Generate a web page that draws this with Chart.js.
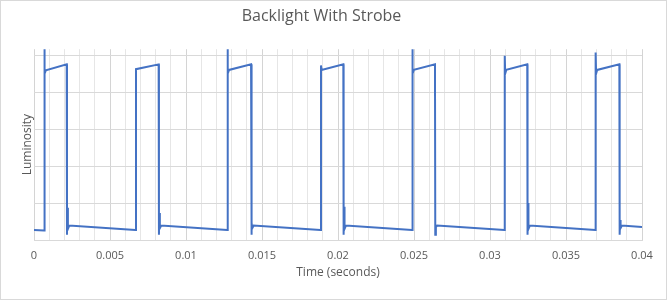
<!DOCTYPE html>
<html>
<head>
    <title>Backlight With Strobe</title>
    <script src="https://cdn.jsdelivr.net/npm/chart.js@4.4.0/dist/chart.umd.min.js"></script>
    <style>
        body { margin: 0; background: #fff; }
        .box { width: 667px; height: 300px; border: 1px solid #d9d9d9; box-sizing: border-box; }
    </style>
</head>
<body>
<div class="box">
    <canvas id="myChart" width="665" height="298"></canvas>
</div>

<script>
    // waveform (seconds, luminosity in grid units)
    var timeSec = [
        0, 0.00066, 0.00068, 0.00071, 0.00078, 0.00215, 0.00217, 0.00220, 0.00223, 0.00232,
        0.00667, 0.00671, 0.00820, 0.00822, 0.00825, 0.00828, 0.00837,
        0.01271, 0.01273, 0.01276, 0.01283, 0.01428, 0.01430, 0.01433, 0.01436, 0.01445,
        0.01884, 0.01888, 0.01892, 0.02035, 0.02037, 0.02040, 0.02043, 0.02052,
        0.02487, 0.02489, 0.02492, 0.02499, 0.02638, 0.02640, 0.02644, 0.02652,
        0.03095, 0.03097, 0.03100, 0.03107, 0.03245, 0.03247, 0.03250, 0.03253, 0.03262,
        0.03693, 0.03695, 0.03698, 0.03705, 0.03851, 0.03853, 0.03856, 0.03859, 0.03868,
        0.04
    ];
    var luminosity = [
        0.27, 0.26, 5.6, 4.50, 4.59, 4.75, 0.14, 0.87, 0.30, 0.39,
        0.27, 4.62, 4.75, 0.14, 0.73, 0.32, 0.39,
        0.27, 5.6, 4.50, 4.60, 4.75, 0.14, 0.46, 0.32, 0.39,
        0.27, 4.72, 4.60, 4.75, 0.14, 0.90, 0.30, 0.39,
        0.27, 5.6, 4.50, 4.60, 4.75, 0.14, 0.35, 0.39,
        0.27, 4.98, 4.50, 4.60, 4.75, 0.14, 1.00, 0.30, 0.39,
        0.27, 5.07, 4.50, 4.60, 4.75, 0.14, 0.54, 0.32, 0.39,
        0.35
    ];
    var yGridValues = [0, 1, 2, 3, 4, 5];

    var points = timeSec.map(function (t, i) {
        return { x: t, y: luminosity[i] };
    });

    var textColor = "#595959";
    var fontName = "'Open Sans', sans-serif";

    function isMajor(v) {
        return Math.round(v * 1000) % 5 === 0;
    }

    var ctx = document.getElementById("myChart").getContext("2d");
    new Chart(ctx, {
        type: "scatter",
        data: {
            datasets: [{
                data: points,
                showLine: true,
                borderColor: "#4472C4",
                borderWidth: 2,
                pointRadius: 0,
                tension: 0,
                clip: 0
            }]
        },
        options: {
            responsive: false,
            animation: false,
            layout: { padding: { left: 0, right: 24, top: 0, bottom: 0 } },
            plugins: {
                legend: { display: false },
                tooltip: { enabled: false },
                title: {
                    display: true,
                    text: "Backlight With Strobe",
                    color: textColor,
                    font: { family: fontName, size: 16, weight: "normal" },
                    padding: { top: 6, bottom: 23 }
                }
            },
            scales: {
                x: {
                    type: "linear",
                    min: 0,
                    max: 0.04,
                    grid: {
                        drawTicks: false,
                        color: function (c) {
                            return isMajor(c.tick.value) ? "#d4d4d4" : "#e6e6e6";
                        }
                    },
                    border: { color: "#d9d9d9" },
                    ticks: {
                        stepSize: 0.001,
                        maxTicksLimit: 100,
                        autoSkip: false,
                        maxRotation: 0,
                        padding: 9,
                        color: textColor,
                        font: { family: fontName, size: 11 },
                        callback: function (v) {
                            if (!isMajor(v)) return "";
                            return (Math.round(v * 1000) / 1000).toString();
                        }
                    },
                    title: {
                        display: true,
                        text: "Time (seconds)",
                        color: textColor,
                        font: { family: fontName, size: 12 },
                        padding: { top: 0, bottom: 19 }
                    },
                    afterFit: function (scale) {
                        scale.height = 59;
                    }
                },
                y: {
                    min: 0,
                    max: 5.16,
                    afterBuildTicks: function (scale) {
                        scale.ticks = yGridValues.map(function (v) { return { value: v }; });
                    },
                    grid: { drawTicks: false, color: "#d9d9d9" },
                    border: { display: false },
                    ticks: { display: false },
                    title: {
                        display: true,
                        text: "Luminosity",
                        color: textColor,
                        font: { family: fontName, size: 12 },
                        padding: { top: 19, bottom: 0 }
                    },
                    afterFit: function (scale) {
                        scale.width = 33;
                    }
                }
            }
        }
    });
</script>
</body>
</html>
